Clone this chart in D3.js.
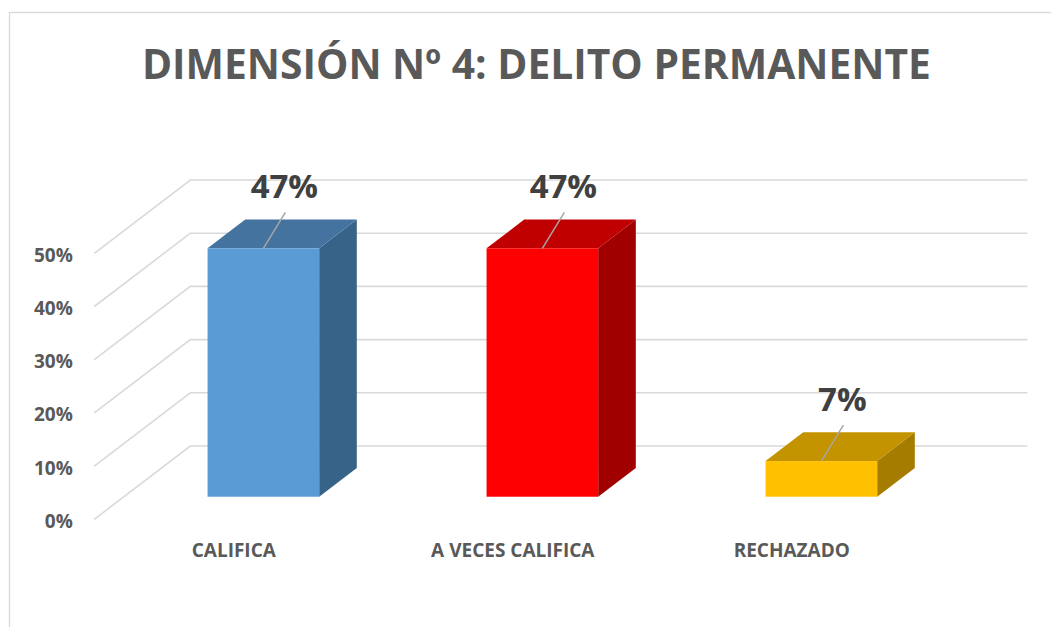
<!DOCTYPE html>
<html>
<head>
<meta charset="utf-8">
<script src="https://d3js.org/d3.v7.min.js"></script>
<style>
  body { margin: 0; background: #ffffff; }
  svg { display: block; }
</style>
</head>
<body>
<script>
'use strict';

// chart data
const categories = ["CALIFICA", "A VECES CALIFICA", "RECHAZADO"];
const values = [0.467, 0.467, 0.067];
const yTicks = [0, 0.1, 0.2, 0.3, 0.4, 0.5];
const frontColors = ["#5B9BD5", "#FF0000", "#FFC000"];
const topColors = ["#44739f", "#C00000", "#C49300"];
const sideColors = ["#386389", "#A10000", "#A57C00"];
const titleText = "DIMENSIÓN Nº 4: DELITO PERMANENTE";

(function() {

  let svgContainer = "";

  // floor / wall geometry (front plane and depth offset of the back wall)
  const floorX = 94.3;
  const floorY = 519.3;
  const wallDx = 96;
  const wallDy = -73.3;
  const plotWidth = 837;
  const depthFront = 0.308; // where the bar's front face sits in the depth
  const depthBack = 0.70;

  window.onload = function() {
    svgContainer = d3.select('body')
      .append('svg')
      .attr('width', 1051)
      .attr('height', 627);

    // chart border
    svgContainer.append('rect')
      .attr('x', 9.5)
      .attr('y', 12.5)
      .attr('width', 1100)
      .attr('height', 700)
      .attr('fill', '#ffffff')
      .attr('stroke', '#d9d9d9')
      .attr('stroke-width', 1.3);

    let map = drawAxes();
    drawBars(map);
    drawLabels(map);
  }

  // y axis labels and the bent gridlines
  function drawAxes() {
    let yScale = d3.scaleLinear()
      .domain([0, 0.5])
      .range([floorY, floorY - 266]);

    let xScale = d3.scaleBand()
      .domain(categories)
      .range([0, plotWidth])
      .paddingInner(0.6)
      .paddingOuter(0.3);

    // gridlines: front-left point, up the side wall, across the back wall
    svgContainer.selectAll('.grid')
      .data(yTicks)
      .enter()
      .append('path')
        .attr('class', 'grid')
        .attr('fill', 'none')
        .attr('stroke', '#d9d9d9')
        .attr('stroke-width', 1.6)
        .attr('d', (d) => {
          let y = yScale(d);
          return "M" + floorX + "," + y +
            "L" + (floorX + wallDx) + "," + (y + wallDy) +
            "L" + (floorX + wallDx + plotWidth) + "," + (y + wallDy);
        });

    let yAxis = d3.axisLeft(yScale)
      .tickValues(yTicks)
      .tickSize(0)
      .tickPadding(21.5)
      .tickFormat(d3.format(".0%"));

    let g = svgContainer.append('g')
      .attr('transform', 'translate(' + floorX + ', 0)')
      .call(yAxis);
    g.select('.domain').remove();
    g.selectAll('text')
      .attr('dy', '0.42em')
      .attr('fill', '#595959')
      .style('font-family', '"Open Sans", sans-serif')
      .style('font-weight', 'bold')
      .style('font-size', '19px');

    return { x: xScale, y: yScale };
  }

  // 3D columns: front face, top face, right side
  function drawBars(map) {
    let xScale = map.x;
    let yScale = map.y;
    let shiftX = depthFront * wallDx;
    let shiftY = depthFront * wallDy;
    let dx = (depthBack - depthFront) * wallDx;
    let dy = (depthBack - depthFront) * wallDy;

    let bars = svgContainer.selectAll('.bar')
      .data(categories)
      .enter()
      .append('g')
        .attr('class', 'bar');

    bars.each(function(d, i) {
      let x0 = floorX + shiftX + xScale(d);
      let x1 = x0 + xScale.bandwidth();
      let yb = yScale(0) + shiftY;
      let yt = yScale(values[i]) + shiftY;
      let g = d3.select(this);

      g.append('path')
        .attr('fill', sideColors[i])
        .attr('d', "M" + x1 + "," + yt + "L" + (x1 + dx) + "," + (yt + dy) +
          "L" + (x1 + dx) + "," + (yb + dy) + "L" + x1 + "," + yb + "Z");

      g.append('path')
        .attr('fill', topColors[i])
        .attr('d', "M" + x0 + "," + yt + "L" + x1 + "," + yt +
          "L" + (x1 + dx) + "," + (yt + dy) + "L" + (x0 + dx) + "," + (yt + dy) + "Z");

      g.append('rect')
        .attr('x', x0)
        .attr('y', yt)
        .attr('width', x1 - x0)
        .attr('height', yb - yt)
        .attr('fill', frontColors[i]);

      // leader line and value label
      let cx = (x0 + x1) / 2;
      g.append('line')
        .attr('x1', cx)
        .attr('y1', yt)
        .attr('x2', cx + 22)
        .attr('y2', yt - 36)
        .attr('stroke', '#a6a6a6')
        .attr('stroke-width', 1.5);

      g.append('text')
        .attr('x', cx + 21)
        .attr('y', yt - 50)
        .attr('text-anchor', 'middle')
        .attr('fill', '#404040')
        .style('font-family', '"Open Sans", sans-serif')
        .style('font-weight', 'bold')
        .style('font-size', '33px')
        .text(d3.format(".0%")(values[i]));
    });
  }

  // title and category labels
  function drawLabels(map) {
    let xScale = map.x;

    svgContainer.append('text')
      .attr('x', 536.4)
      .attr('y', 78.5)
      .attr('text-anchor', 'middle')
      .attr('fill', '#595959')
      .attr('textLength', 789)
      .attr('lengthAdjust', 'spacingAndGlyphs')
      .style('font-family', '"Open Sans", sans-serif')
      .style('font-weight', 'bold')
      .style('font-size', '42px')
      .text(titleText);

    svgContainer.selectAll('.cat')
      .data(categories)
      .enter()
      .append('text')
        .attr('class', 'cat')
        .attr('x', (d) => floorX + xScale(d) + xScale.bandwidth() / 2)
        .attr('y', 556.7)
        .attr('text-anchor', 'middle')
        .attr('fill', '#595959')
        .style('font-family', '"Open Sans", sans-serif')
        .style('font-weight', 'bold')
        .style('font-size', '19px')
        .text((d) => d);
  }

})();
</script>
</body>
</html>
